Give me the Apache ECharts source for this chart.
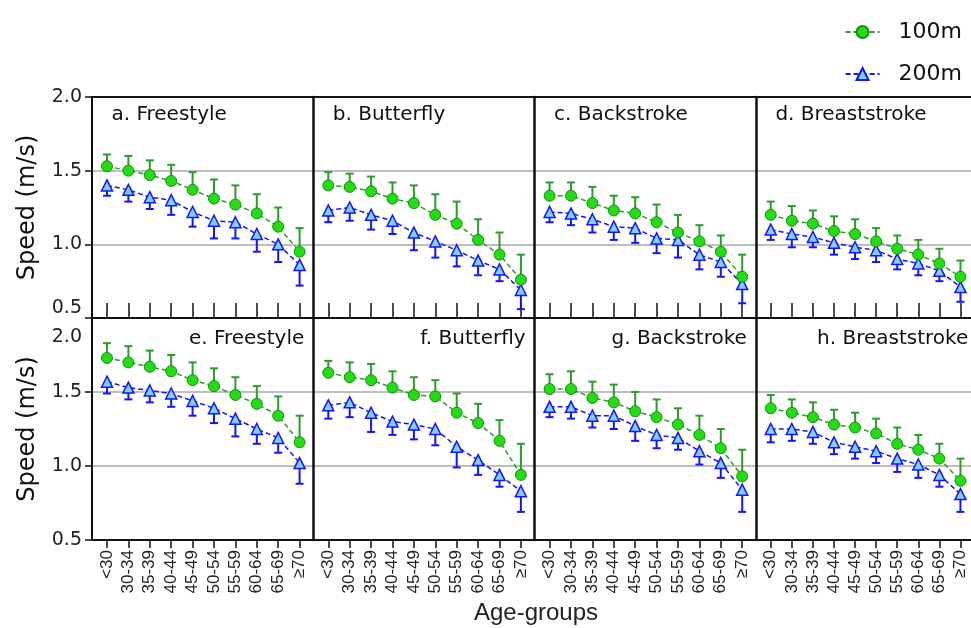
<!DOCTYPE html>
<html>
<head>
<meta charset="utf-8">
<script src="https://cdn.jsdelivr.net/npm/echarts@6/dist/echarts.min.js"></script>
<style>html,body{margin:0;padding:0;background:#fff}#c{width:971px;height:628px}</style>
</head>
<body>
<div id="c"></div>
<script>
const categories = ['<30','30-34','35-39','40-44','45-49','50-54','55-59','60-64','65-69','≥70'];
const yTicks = [0.5, 2.0];
const seriesNames = ['100m', '200m'];
const panelTitles = ['a. Freestyle','b. Butterfly','c. Backstroke','d. Breaststroke','e. Freestyle','f. Butterfly','g. Backstroke','h. Breaststroke'];

const a100 = [1.53, 1.50, 1.47, 1.43, 1.37, 1.31, 1.27, 1.21, 1.12, 0.95];
const a100sd = [0.08, 0.10, 0.10, 0.11, 0.12, 0.13, 0.13, 0.13, 0.13, 0.16];
const a200 = [1.40, 1.37, 1.32, 1.30, 1.22, 1.16, 1.15, 1.07, 1.00, 0.86];
const a200sd = [0.07, 0.08, 0.08, 0.10, 0.10, 0.12, 0.11, 0.12, 0.12, 0.14];

const b100 = [1.40, 1.39, 1.36, 1.31, 1.28, 1.20, 1.14, 1.03, 0.93, 0.76];
const b100sd = [0.09, 0.09, 0.10, 0.11, 0.12, 0.14, 0.15, 0.14, 0.15, 0.17];
const b200 = [1.23, 1.25, 1.20, 1.16, 1.08, 1.02, 0.96, 0.89, 0.83, 0.69];
const b200sd = [0.08, 0.09, 0.10, 0.09, 0.12, 0.11, 0.11, 0.10, 0.08, 0.13];

const c100 = [1.33, 1.33, 1.28, 1.23, 1.21, 1.15, 1.08, 1.02, 0.95, 0.78];
const c100sd = [0.09, 0.09, 0.11, 0.10, 0.11, 0.12, 0.12, 0.11, 0.11, 0.15];
const c200 = [1.22, 1.21, 1.17, 1.12, 1.11, 1.04, 1.03, 0.93, 0.88, 0.73];
const c200sd = [0.07, 0.08, 0.09, 0.09, 0.10, 0.10, 0.12, 0.10, 0.10, 0.13];

const d100 = [1.20, 1.16, 1.14, 1.09, 1.07, 1.02, 0.97, 0.93, 0.87, 0.78];
const d100sd = [0.09, 0.10, 0.09, 0.10, 0.10, 0.09, 0.09, 0.10, 0.10, 0.11];
const d200 = [1.10, 1.07, 1.05, 1.01, 0.98, 0.96, 0.90, 0.87, 0.82, 0.71];
const d200sd = [0.07, 0.09, 0.07, 0.08, 0.08, 0.08, 0.07, 0.08, 0.07, 0.10];

const e100 = [1.73, 1.70, 1.67, 1.64, 1.58, 1.54, 1.48, 1.42, 1.34, 1.16];
const e100sd = [0.10, 0.11, 0.11, 0.11, 0.12, 0.12, 0.12, 0.12, 0.13, 0.18];
const e200 = [1.57, 1.53, 1.51, 1.49, 1.44, 1.39, 1.32, 1.25, 1.19, 1.02];
const e200sd = [0.08, 0.08, 0.08, 0.09, 0.10, 0.10, 0.12, 0.10, 0.10, 0.14];

const f100 = [1.63, 1.60, 1.58, 1.53, 1.48, 1.47, 1.36, 1.29, 1.17, 0.94];
const f100sd = [0.08, 0.10, 0.11, 0.11, 0.12, 0.11, 0.13, 0.13, 0.14, 0.21];
const f200 = [1.41, 1.43, 1.36, 1.30, 1.28, 1.25, 1.13, 1.04, 0.94, 0.83];
const f200sd = [0.09, 0.10, 0.13, 0.09, 0.10, 0.11, 0.14, 0.10, 0.08, 0.14];

const g100 = [1.52, 1.52, 1.46, 1.43, 1.37, 1.33, 1.28, 1.21, 1.12, 0.93];
const g100sd = [0.10, 0.12, 0.11, 0.12, 0.13, 0.12, 0.11, 0.13, 0.13, 0.18];
const g200 = [1.40, 1.40, 1.34, 1.34, 1.27, 1.21, 1.19, 1.10, 1.02, 0.84];
const g200sd = [0.07, 0.08, 0.08, 0.09, 0.10, 0.09, 0.08, 0.09, 0.10, 0.15];

const h100 = [1.39, 1.36, 1.33, 1.28, 1.26, 1.22, 1.15, 1.11, 1.05, 0.90];
const h100sd = [0.09, 0.09, 0.10, 0.10, 0.10, 0.10, 0.11, 0.10, 0.10, 0.15];
const h200 = [1.25, 1.25, 1.23, 1.16, 1.13, 1.10, 1.05, 1.01, 0.94, 0.81];
const h200sd = [0.09, 0.08, 0.08, 0.08, 0.08, 0.08, 0.09, 0.09, 0.08, 0.12];

const panels = [
  [a100, a100sd, a200, a200sd], [b100, b100sd, b200, b200sd],
  [c100, c100sd, c200, c200sd], [d100, d100sd, d200, d200sd],
  [e100, e100sd, e200, e200sd], [f100, f100sd, f200, f200sd],
  [g100, g100sd, g200, g200sd], [h100, h100sd, h200, h200sd]
];

const GREEN_LINE = '#2c9c2c', GREEN_FILL = '#22dd11', GREEN_BORDER = '#1a8a1a';
const BLUE_LINE = '#1414ff', BLUE_FILL = '#80d0ff';
const FONT = 'DejaVu Sans';

const panelW = 221.3, x0 = 92;
const rowTop = [97, 318], rowH = [221, 222];

const grid = [], xAxis = [], yAxis = [], series = [], title = [];

function errRender(dir, color) {
  return function (params, api) {
    const x = api.value(0), v = api.value(1), sd = api.value(2);
    const p = api.coord([x, v]);
    const e = api.coord([x, v + dir * sd]);
    const st = { stroke: color, lineWidth: 2 };
    return {
      type: 'group',
      children: [
        { type: 'line', shape: { x1: p[0], y1: p[1], x2: e[0], y2: e[1] }, style: st },
        { type: 'line', shape: { x1: e[0] - 4, y1: e[1], x2: e[0] + 4, y2: e[1] }, style: st }
      ]
    };
  };
}

for (let p = 0; p < 8; p++) {
  const row = p < 4 ? 0 : 1, col = p % 4;
  const left = x0 + col * panelW;
  const top = rowTop[row], h = rowH[row];
  const fg = grid.length;
  grid.push({ left: left, top: top, width: panelW, height: h });
  xAxis.push({
    gridIndex: fg, type: 'value', min: 0, max: 1, position: 'bottom',
    axisLine: { show: true, onZero: false, lineStyle: { color: '#111', width: 2 } },
    axisTick: { show: false }, axisLabel: { show: false }, splitLine: { show: false }
  });
  if (row === 0) {
    xAxis.push({
      gridIndex: fg, type: 'value', min: 0, max: 1, position: 'top',
      axisLine: { show: true, onZero: false, lineStyle: { color: '#111', width: 2 } },
      axisTick: { show: false }, axisLabel: { show: false }, splitLine: { show: false }
    });
  }
  const first = col === 0;
  yAxis.push({
    gridIndex: fg, type: 'value', min: yTicks[0], max: yTicks[1], interval: 0.5,
    axisLine: { show: true, onZero: false, lineStyle: { color: '#111', width: first ? 2 : 2.5 } },
    axisTick: { show: first, length: 7, lineStyle: { color: '#111', width: 1.5 } },
    axisLabel: {
      show: first, margin: 10, color: '#222', fontFamily: FONT, fontSize: 19,
      formatter: function (v) {
        const s = v.toFixed(1);
        return (row === 1 && v === yTicks[1]) ? '{lo|' + s + '}' : s;
      },
      rich: { lo: { fontFamily: FONT, fontSize: 19, color: '#222', padding: [10, 0, 0, 0] } },
      verticalAlignMinLabel: row === 0 ? 'bottom' : 'middle',
      verticalAlignMaxLabel: row === 1 ? 'top' : 'middle'
    },
    splitLine: { show: true, lineStyle: { color: '#aaaaaa', width: 1.5 } },
    name: first ? 'Speed (m/s)' : '', nameLocation: 'middle', nameGap: 52,
    nameTextStyle: { fontFamily: FONT, fontSize: 24, color: '#111' }
  });
  const dg = grid.length;
  grid.push({ left: left + 4.3, top: top, width: 214, height: h });
  const dx = xAxis.length;
  xAxis.push({
    gridIndex: dg, type: 'category', data: categories, boundaryGap: true,
    axisLine: { show: false },
    axisTick: {
      show: true, alignWithLabel: true, inside: row === 0, length: row === 0 ? 15 : 8,
      lineStyle: { color: '#111', width: 1.5 }
    },
    axisLabel: {
      show: row === 1, interval: 0, rotate: 90, margin: 10,
      fontFamily: 'Liberation Sans', fontSize: 17, color: '#222'
    },
    splitLine: { show: false }
  });
  const dy = yAxis.length;
  yAxis.push({ gridIndex: dg, type: 'value', min: yTicks[0], max: yTicks[1], show: false, splitLine: { show: false } });

  const [m1, s1, m2, s2] = panels[p];
  series.push({
    type: 'line', name: '100m', xAxisIndex: dx, yAxisIndex: dy, z: 3, data: m1,
    symbol: 'circle', symbolSize: 11, animation: false,
    lineStyle: { color: GREEN_LINE, width: 1.5, type: [5, 3] },
    itemStyle: { color: GREEN_FILL, borderColor: GREEN_BORDER, borderWidth: 1 }
  });
  series.push({
    type: 'line', name: '200m', xAxisIndex: dx, yAxisIndex: dy, z: 2, data: m2,
    symbol: 'triangle', symbolSize: 11, animation: false,
    lineStyle: { color: BLUE_LINE, width: 1.5, type: [5, 3] },
    itemStyle: { color: BLUE_FILL, borderColor: BLUE_LINE, borderWidth: 1.5 }
  });
  series.push({
    type: 'custom', name: '100m sd', xAxisIndex: dx, yAxisIndex: dy, z: 1,
    data: m1.map((v, i) => [i, v, s1[i]]), encode: { x: 0, y: 1 },
    renderItem: errRender(1, GREEN_LINE), silent: true
  });
  series.push({
    type: 'custom', name: '200m sd', xAxisIndex: dx, yAxisIndex: dy, z: 1,
    data: m2.map((v, i) => [i, v, s2[i]]), encode: { x: 0, y: 1 },
    renderItem: errRender(-1, BLUE_LINE), silent: true
  });

  if (row === 0) {
    title.push({ text: panelTitles[p], left: left + 19.5, top: 105, padding: 0,
      textStyle: { fontFamily: FONT, fontSize: 20, fontWeight: 'normal', color: '#111' } });
  } else {
    title.push({ text: panelTitles[p], right: 971 - (left + panelW - 9), top: 329, padding: 0,
      textStyle: { fontFamily: FONT, fontSize: 20, fontWeight: 'normal', color: '#111' } });
  }
}

title.push({ text: 'Age-groups', left: 536, top: 601, padding: 0, textAlign: 'center',
  textStyle: { fontFamily: 'Liberation Sans', fontSize: 24, fontWeight: 'normal', color: '#222' } });

const chart = echarts.init(document.getElementById('c'), null, { renderer: 'canvas' });
chart.setOption({
  animation: false,
  backgroundColor: '#fff',
  title: title,
  legend: {
    data: seriesNames.map(n => ({ name: n })),
    orient: 'vertical', right: 4, top: 14, itemGap: 16,
    itemWidth: 34, itemHeight: 15,
    textStyle: { fontFamily: FONT, fontSize: 22, color: '#111', lineHeight: 26, padding: [0, 0, 0, 14] },
    selectedMode: false
  },
  grid: grid, xAxis: xAxis, yAxis: yAxis, series: series
});
</script>
</body>
</html>
